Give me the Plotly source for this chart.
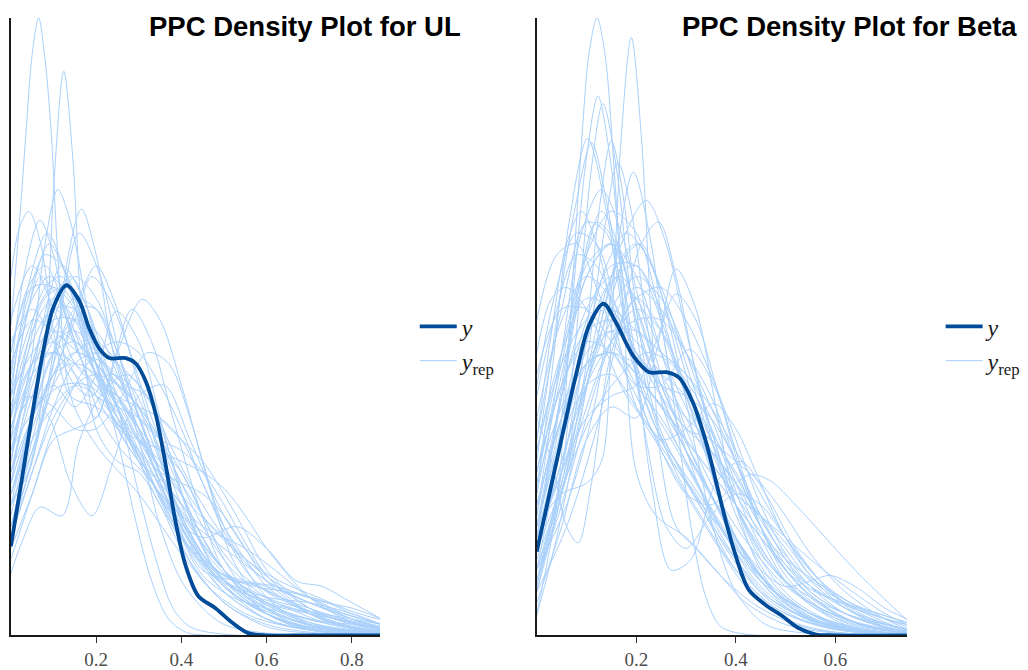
import plotly.graph_objects as go

# ---------------------------------------------------------------------------
# Observed-data density (y) and posterior predictive densities (y_rep)
# Each curve is given by knots (x, density); the line is drawn as a spline.
# ---------------------------------------------------------------------------

ul_x_max = 0.866
beta_x_max = 0.744
density_max = 5.68

ul_ticks = [0.2, 0.4, 0.6, 0.8]
beta_ticks = [0.2, 0.4, 0.6]

ul_y_x = [0, 0.025, 0.05, 0.075, 0.1, 0.13, 0.16, 0.184, 0.207, 0.231, 0.27, 0.293,
          0.317, 0.34, 0.363, 0.386, 0.41, 0.44, 0.48, 0.518, 0.557, 0.6, 0.7, 0.866]
ul_y_density = [0.82, 1.42, 2.03, 2.6, 3.02, 3.22, 3.08, 2.82, 2.64, 2.55, 2.55, 2.5,
                2.33, 2.03, 1.57, 1.05, 0.64, 0.36, 0.25, 0.12, 0.02, 0.0, 0.0, 0.0]

ul_rep_x = [
    [0, 0.02, 0.035, 0.05, 0.065, 0.08, 0.095, 0.11, 0.14, 0.2, 0.3, 0.4, 0.5, 0.6, 0.7, 0.87],
    [0, 0.05, 0.085, 0.1, 0.124, 0.145, 0.165, 0.2, 0.25, 0.3, 0.35, 0.4, 0.5, 0.6, 0.7, 0.87],
    [0, 0.05, 0.08, 0.11, 0.14, 0.18, 0.22, 0.27, 0.32, 0.38, 0.45, 0.55, 0.65, 0.75, 0.87],
    [0, 0.02, 0.042, 0.07, 0.1, 0.14, 0.2, 0.26, 0.32, 0.4, 0.5, 0.6, 0.7, 0.87],
    [0, 0.05, 0.1, 0.135, 0.165, 0.2, 0.24, 0.28, 0.33, 0.4, 0.5, 0.6, 0.7, 0.87],
    [0, 0.03, 0.068, 0.1, 0.13, 0.17, 0.22, 0.28, 0.35, 0.42, 0.5, 0.6, 0.7, 0.87],
    [0, 0.05, 0.1, 0.15, 0.2, 0.25, 0.308, 0.35, 0.4, 0.45, 0.5, 0.6, 0.7, 0.87],
    [0, 0.05, 0.1, 0.15, 0.2, 0.247, 0.3, 0.35, 0.4, 0.45, 0.5, 0.6, 0.7, 0.87],
    [0, 0.05, 0.1, 0.15, 0.2, 0.24, 0.284, 0.33, 0.38, 0.44, 0.5, 0.6, 0.7, 0.87],
    [0, 0.03, 0.068, 0.12, 0.16, 0.21, 0.27, 0.32, 0.38, 0.45, 0.52, 0.6, 0.7, 0.8, 0.87],
    [0, 0.04, 0.09, 0.14, 0.19, 0.24, 0.3, 0.36, 0.42, 0.5, 0.6, 0.7, 0.8, 0.87],
    [0, 0.05, 0.1, 0.15, 0.2, 0.26, 0.32, 0.38, 0.45, 0.53, 0.6, 0.67, 0.73, 0.8, 0.87],
    [0, 0.05, 0.1, 0.15, 0.2, 0.25, 0.3, 0.36, 0.42, 0.5, 0.6, 0.7, 0.8, 0.87],
    [0, 0.04, 0.09, 0.14, 0.19, 0.24, 0.3, 0.36, 0.42, 0.48, 0.55, 0.65, 0.75, 0.87],
    [0, 0.05, 0.12, 0.18, 0.24, 0.3, 0.36, 0.42, 0.5, 0.6, 0.7, 0.8, 0.87],
    [0, 0.04, 0.09, 0.14, 0.2, 0.26, 0.32, 0.38, 0.45, 0.55, 0.65, 0.75, 0.87],
    [0, 0.05, 0.1, 0.15, 0.2, 0.25, 0.3, 0.35, 0.4, 0.47, 0.55, 0.65, 0.75, 0.87],
    [0, 0.06, 0.12, 0.17, 0.2, 0.24, 0.3, 0.36, 0.42, 0.5, 0.6, 0.7, 0.87],
    [0, 0.05, 0.1, 0.15, 0.2, 0.25, 0.3, 0.35, 0.4, 0.45, 0.52, 0.6, 0.7, 0.8, 0.87],
    [0, 0.06, 0.12, 0.18, 0.24, 0.3, 0.36, 0.42, 0.5, 0.58, 0.66, 0.74, 0.8, 0.87],
    [0, 0.05, 0.1, 0.16, 0.22, 0.28, 0.34, 0.4, 0.46, 0.54, 0.62, 0.7, 0.8, 0.87],
    [0, 0.04, 0.08, 0.13, 0.18, 0.23, 0.28, 0.34, 0.4, 0.47, 0.55, 0.65, 0.75, 0.87],
    [0, 0.05, 0.1, 0.15, 0.2, 0.25, 0.3, 0.34, 0.38, 0.42, 0.5, 0.87],
    [0, 0.05, 0.1, 0.15, 0.2, 0.25, 0.3, 0.35, 0.4, 0.45, 0.5, 0.6, 0.87],
    [0, 0.04, 0.08, 0.12, 0.17, 0.22, 0.27, 0.32, 0.38, 0.45, 0.53, 0.6, 0.7, 0.8, 0.87],
    [0, 0.05, 0.1, 0.15, 0.2, 0.25, 0.3, 0.35, 0.4, 0.47, 0.55, 0.63, 0.72, 0.8, 0.87],
    [0, 0.03, 0.07, 0.11, 0.16, 0.21, 0.26, 0.31, 0.37, 0.43, 0.5, 0.6, 0.7, 0.87],
    [0, 0.05, 0.1, 0.15, 0.2, 0.25, 0.3, 0.35, 0.4, 0.45, 0.52, 0.6, 0.68, 0.76, 0.87],
    [0, 0.05, 0.1, 0.15, 0.19, 0.23, 0.28, 0.33, 0.38, 0.44, 0.5, 0.58, 0.66, 0.76, 0.87],
    [0, 0.05, 0.1, 0.15, 0.2, 0.25, 0.3, 0.35, 0.4, 0.45, 0.5, 0.6, 0.7, 0.8, 0.87],
    [0, 0.05, 0.1, 0.14, 0.18, 0.22, 0.27, 0.32, 0.37, 0.42, 0.48, 0.56, 0.65, 0.75, 0.87],
    [0, 0.05, 0.1, 0.15, 0.2, 0.25, 0.3, 0.36, 0.42, 0.48, 0.55, 0.62, 0.7, 0.78, 0.87],
    [0, 0.04, 0.085, 0.13, 0.18, 0.24, 0.3, 0.36, 0.43, 0.5, 0.6, 0.7, 0.87],
    [0, 0.06, 0.11, 0.16, 0.21, 0.26, 0.31, 0.37, 0.44, 0.52, 0.6, 0.7, 0.87],
    [0, 0.05, 0.1, 0.15, 0.19, 0.23, 0.28, 0.33, 0.39, 0.45, 0.52, 0.6, 0.7, 0.87],
    [0, 0.05, 0.1, 0.15, 0.2, 0.26, 0.32, 0.37, 0.42, 0.47, 0.52, 0.6, 0.7, 0.87],
    [0, 0.05, 0.1, 0.15, 0.2, 0.25, 0.29, 0.33, 0.37, 0.41, 0.46, 0.87],
    [0, 0.05, 0.1, 0.15, 0.2, 0.25, 0.3, 0.35, 0.4, 0.45, 0.5, 0.55, 0.6, 0.7, 0.8, 0.87],
    [0, 0.05, 0.1, 0.15, 0.2, 0.25, 0.3, 0.35, 0.4, 0.45, 0.5, 0.55, 0.6, 0.7, 0.8, 0.87],
    [0, 0.05, 0.1, 0.15, 0.2, 0.25, 0.3, 0.35, 0.4, 0.45, 0.5, 0.55, 0.6, 0.7, 0.8, 0.87],
    [0, 0.04, 0.08, 0.12, 0.16, 0.2, 0.25, 0.3, 0.35, 0.4, 0.45, 0.5, 0.57, 0.65, 0.75, 0.87],
    [0, 0.05, 0.1, 0.15, 0.2, 0.25, 0.3, 0.35, 0.4, 0.45, 0.5, 0.55, 0.62, 0.7, 0.8, 0.87],
    [0, 0.05, 0.1, 0.15, 0.2, 0.25, 0.3, 0.35, 0.4, 0.45, 0.5, 0.56, 0.63, 0.7, 0.78, 0.87],
    [0, 0.05, 0.1, 0.15, 0.2, 0.25, 0.3, 0.35, 0.4, 0.45, 0.5, 0.57, 0.65, 0.73, 0.8, 0.87],
    [0, 0.05, 0.1, 0.15, 0.2, 0.25, 0.3, 0.35, 0.4, 0.45, 0.5, 0.55, 0.6, 0.7, 0.87],
    [0, 0.05, 0.1, 0.15, 0.2, 0.25, 0.3, 0.35, 0.4, 0.45, 0.5, 0.55, 0.6, 0.68, 0.76, 0.87],
    [0, 0.04, 0.08, 0.12, 0.16, 0.2, 0.25, 0.3, 0.35, 0.4, 0.45, 0.5, 0.6, 0.7, 0.8, 0.87],
    [0, 0.05, 0.1, 0.15, 0.2, 0.25, 0.3, 0.35, 0.4, 0.45, 0.5, 0.55, 0.6, 0.7, 0.8, 0.87],
    [0, 0.05, 0.1, 0.15, 0.2, 0.25, 0.3, 0.35, 0.4, 0.45, 0.5, 0.6, 0.7, 0.8, 0.87],
    [0, 0.05, 0.1, 0.15, 0.2, 0.25, 0.3, 0.35, 0.4, 0.45, 0.5, 0.55, 0.6, 0.7, 0.8, 0.87],
    [0, 0.05, 0.1, 0.15, 0.2, 0.25, 0.3, 0.35, 0.4, 0.45, 0.5, 0.55, 0.6, 0.7, 0.8, 0.87],
]
ul_rep_density = [
    [2.85, 3.8, 4.6, 5.35, 5.68, 5.3, 4.6, 3.5, 2.2, 1.75, 1.3, 0.75, 0.3, 0.08, 0.02, 0.0],
    [1.2, 1.6, 2.9, 4.1, 5.19, 4.4, 3.0, 1.9, 1.6, 1.5, 1.2, 0.8, 0.3, 0.1, 0.03, 0.0],
    [1.6, 2.6, 3.6, 4.1, 3.8, 3.0, 2.4, 1.9, 1.5, 1.0, 0.5, 0.2, 0.08, 0.03, 0.01],
    [3.3, 3.75, 3.9, 3.6, 2.8, 2.2, 2.1, 1.9, 1.5, 0.9, 0.4, 0.15, 0.05, 0.01],
    [1.0, 1.6, 2.5, 3.5, 3.92, 3.5, 2.6, 2.1, 1.6, 1.0, 0.45, 0.2, 0.07, 0.01],
    [2.4, 3.3, 3.82, 3.5, 2.9, 2.5, 2.3, 2.0, 1.4, 0.8, 0.45, 0.2, 0.06, 0.01],
    [0.8, 1.3, 1.8, 1.9, 2.0, 2.6, 3.09, 2.9, 2.3, 1.6, 1.0, 0.35, 0.1, 0.01],
    [1.5, 2.0, 2.3, 2.1, 2.4, 2.98, 2.7, 2.0, 1.3, 0.8, 0.5, 0.2, 0.06, 0.01],
    [1.9, 2.5, 2.7, 2.4, 2.0, 2.5, 3.0, 2.7, 2.0, 1.2, 0.6, 0.2, 0.05, 0.0],
    [0.57, 0.9, 1.18, 1.1, 1.78, 2.2, 2.4, 2.2, 1.7, 1.2, 0.8, 0.5, 0.3, 0.15, 0.08],
    [1.6, 2.2, 2.0, 1.4, 1.1, 1.6, 2.2, 2.3, 1.8, 1.1, 0.55, 0.25, 0.12, 0.06],
    [1.3, 1.8, 2.1, 2.3, 2.2, 1.9, 1.5, 1.1, 0.9, 1.0, 0.8, 0.5, 0.45, 0.3, 0.15],
    [2.0, 2.7, 3.0, 2.8, 2.4, 2.1, 1.7, 1.2, 0.8, 0.5, 0.35, 0.3, 0.2, 0.1],
    [2.3, 3.0, 3.3, 3.1, 2.6, 2.0, 1.6, 1.4, 1.1, 0.7, 0.4, 0.2, 0.1, 0.03],
    [1.4, 2.4, 3.4, 3.0, 2.3, 1.8, 1.4, 1.0, 0.6, 0.3, 0.12, 0.05, 0.02],
    [2.0, 3.0, 3.6, 3.2, 2.5, 2.0, 1.5, 1.1, 0.7, 0.35, 0.15, 0.06, 0.02],
    [1.1, 2.0, 2.9, 3.3, 3.1, 2.6, 2.0, 1.5, 1.0, 0.6, 0.3, 0.12, 0.05, 0.01],
    [1.2, 1.8, 2.6, 3.2, 3.4, 3.1, 2.3, 1.5, 0.9, 0.45, 0.15, 0.05, 0.0],
    [2.9, 3.4, 3.0, 2.5, 2.3, 2.2, 1.9, 1.4, 0.9, 0.55, 0.35, 0.25, 0.15, 0.08, 0.04],
    [1.7, 2.1, 2.3, 2.3, 2.1, 1.8, 1.5, 1.2, 0.9, 0.6, 0.4, 0.3, 0.25, 0.15],
    [2.5, 2.9, 2.8, 2.6, 2.5, 2.2, 1.6, 1.0, 0.6, 0.4, 0.3, 0.2, 0.08, 0.03],
    [1.8, 2.6, 3.1, 3.2, 2.8, 2.4, 2.2, 1.8, 1.2, 0.7, 0.4, 0.18, 0.07, 0.02],
    [2.2, 2.9, 3.2, 3.0, 2.6, 2.1, 1.3, 0.7, 0.25, 0.08, 0.01, 0.0],
    [1.5, 2.3, 2.8, 3.1, 3.0, 2.5, 1.8, 1.0, 0.5, 0.25, 0.1, 0.02, 0.0],
    [2.6, 3.2, 3.4, 3.1, 2.6, 2.3, 2.0, 1.6, 1.1, 0.6, 0.5, 0.45, 0.3, 0.15, 0.06],
    [0.9, 1.5, 2.0, 2.3, 2.4, 2.3, 2.1, 1.8, 1.4, 1.0, 0.7, 0.5, 0.35, 0.22, 0.14],
    [2.0, 2.8, 3.3, 3.1, 2.6, 2.0, 1.7, 1.5, 1.2, 0.8, 0.4, 0.15, 0.05, 0.01],
    [1.3, 2.0, 2.6, 2.7, 2.5, 2.3, 2.1, 1.8, 1.4, 1.0, 0.6, 0.35, 0.25, 0.15, 0.05],
    [2.7, 3.0, 2.7, 2.3, 2.2, 2.4, 2.3, 1.9, 1.3, 0.8, 0.55, 0.45, 0.3, 0.12, 0.03],
    [1.9, 2.4, 2.6, 2.5, 2.3, 2.0, 1.8, 1.6, 1.3, 0.9, 0.6, 0.3, 0.2, 0.12, 0.07],
    [1.6, 2.5, 3.1, 3.3, 3.0, 2.5, 2.3, 2.2, 1.7, 1.1, 0.6, 0.3, 0.15, 0.05, 0.01],
    [1.0, 1.7, 2.3, 2.6, 2.7, 2.5, 2.0, 1.4, 0.9, 0.6, 0.5, 0.45, 0.35, 0.2, 0.1],
    [2.2, 3.2, 3.7, 3.3, 2.6, 2.0, 1.7, 1.3, 0.8, 0.45, 0.2, 0.08, 0.02],
    [0.9, 1.8, 2.8, 3.7, 3.3, 2.5, 1.9, 1.3, 0.8, 0.45, 0.25, 0.1, 0.02],
    [1.4, 2.0, 2.4, 2.9, 3.3, 3.1, 2.6, 2.0, 1.4, 0.9, 0.5, 0.25, 0.1, 0.02],
    [1.8, 2.2, 2.1, 1.9, 1.9, 2.2, 2.6, 2.5, 2.0, 1.3, 0.7, 0.25, 0.06, 0.0],
    [1.7, 2.4, 2.9, 2.9, 2.5, 1.8, 1.1, 0.5, 0.15, 0.03, 0.0, 0.0],
    [1.5, 2.2, 2.7, 2.8, 2.6, 2.3, 2.0, 1.8, 1.7, 1.5, 1.2, 0.85, 0.55, 0.2, 0.06, 0.02],
    [2.1, 2.8, 3.1, 2.9, 2.4, 2.0, 1.7, 1.5, 1.4, 1.3, 1.1, 0.8, 0.5, 0.2, 0.07, 0.02],
    [0.9, 1.5, 2.1, 2.5, 2.6, 2.5, 2.3, 2.0, 1.8, 1.6, 1.3, 0.95, 0.6, 0.25, 0.1, 0.05],
    [2.4, 3.1, 3.5, 3.4, 3.0, 2.5, 2.0, 1.6, 1.2, 0.9, 0.7, 0.55, 0.4, 0.25, 0.1, 0.03],
    [1.2, 2.0, 2.6, 2.9, 2.8, 2.4, 1.9, 1.5, 1.2, 1.0, 0.9, 0.8, 0.6, 0.35, 0.15, 0.06],
    [2.0, 2.5, 2.6, 2.4, 2.2, 2.1, 2.0, 1.8, 1.5, 1.1, 0.75, 0.5, 0.35, 0.25, 0.15, 0.08],
    [1.0, 1.8, 2.5, 3.0, 3.0, 2.6, 2.1, 1.6, 1.1, 0.75, 0.55, 0.45, 0.4, 0.32, 0.2, 0.1],
    [2.6, 3.2, 3.2, 2.7, 2.2, 1.9, 1.8, 1.7, 1.5, 1.1, 0.7, 0.4, 0.2, 0.05, 0.0],
    [1.4, 2.0, 2.4, 2.5, 2.4, 2.2, 2.1, 2.0, 1.8, 1.4, 0.95, 0.6, 0.4, 0.25, 0.15, 0.06],
    [1.8, 2.7, 3.2, 3.3, 2.9, 2.4, 1.9, 1.6, 1.4, 1.15, 0.85, 0.6, 0.3, 0.15, 0.1, 0.06],
    [0.7, 1.3, 1.9, 2.3, 2.6, 2.7, 2.6, 2.3, 1.9, 1.4, 1.0, 0.7, 0.45, 0.2, 0.08, 0.03],
    [2.2, 2.6, 2.8, 2.7, 2.5, 2.2, 1.9, 1.5, 1.1, 0.75, 0.5, 0.3, 0.22, 0.15, 0.1],
    [1.3, 1.9, 2.4, 2.6, 2.5, 2.2, 1.9, 1.7, 1.6, 1.5, 1.35, 1.1, 0.8, 0.35, 0.12, 0.04],
    [1.7, 2.5, 3.0, 3.0, 2.6, 2.1, 1.6, 1.3, 1.1, 0.95, 0.8, 0.65, 0.5, 0.3, 0.18, 0.1],
]

beta_y_x = [0, 0.046, 0.08, 0.105, 0.134, 0.16, 0.194, 0.226, 0.26, 0.286, 0.313, 0.34,
            0.36, 0.38, 0.4, 0.426, 0.46, 0.493, 0.525, 0.56, 0.6, 0.744]
beta_y_density = [0.77, 1.73, 2.42, 2.85, 3.05, 2.87, 2.57, 2.42, 2.42, 2.37, 2.15, 1.78,
                  1.42, 1.05, 0.73, 0.42, 0.28, 0.18, 0.07, 0.01, 0.0, 0.0]

beta_rep_x = [
    [0, 0.04, 0.07, 0.088, 0.105, 0.121, 0.137, 0.154, 0.175, 0.2, 0.24, 0.3, 0.36, 0.42, 0.5, 0.6, 0.744],
    [0, 0.05, 0.1, 0.13, 0.15, 0.17, 0.19, 0.21, 0.23, 0.25, 0.28, 0.32, 0.38, 0.45, 0.55, 0.744],
    [0, 0.04, 0.07, 0.1, 0.123, 0.15, 0.18, 0.22, 0.27, 0.32, 0.38, 0.45, 0.55, 0.65, 0.744],
    [0, 0.05, 0.08, 0.11, 0.133, 0.16, 0.19, 0.23, 0.28, 0.33, 0.4, 0.48, 0.58, 0.744],
    [0, 0.03, 0.065, 0.102, 0.14, 0.18, 0.23, 0.28, 0.34, 0.4, 0.48, 0.58, 0.744],
    [0, 0.05, 0.1, 0.125, 0.15, 0.175, 0.2, 0.24, 0.29, 0.34, 0.4, 0.48, 0.58, 0.744],
    [0, 0.05, 0.1, 0.135, 0.163, 0.19, 0.22, 0.26, 0.31, 0.37, 0.44, 0.52, 0.62, 0.744],
    [0, 0.06, 0.12, 0.16, 0.194, 0.23, 0.26, 0.3, 0.35, 0.41, 0.48, 0.56, 0.65, 0.744],
    [0, 0.04, 0.08, 0.11, 0.14, 0.18, 0.22, 0.27, 0.32, 0.38, 0.45, 0.55, 0.65, 0.744],
    [0, 0.05, 0.1, 0.15, 0.2, 0.24, 0.28, 0.32, 0.36, 0.4, 0.45, 0.5, 0.58, 0.66, 0.744],
    [0, 0.05, 0.1, 0.15, 0.2, 0.24, 0.28, 0.32, 0.36, 0.41, 0.46, 0.52, 0.6, 0.68, 0.744],
    [0, 0.05, 0.1, 0.15, 0.2, 0.25, 0.306, 0.356, 0.4, 0.45, 0.5, 0.57, 0.65, 0.744],
    [0, 0.05, 0.1, 0.15, 0.2, 0.25, 0.3, 0.356, 0.4, 0.45, 0.5, 0.57, 0.65, 0.744],
    [0, 0.05, 0.1, 0.15, 0.2, 0.25, 0.3, 0.35, 0.4, 0.43, 0.47, 0.52, 0.58, 0.64, 0.7, 0.744],
    [0, 0.05, 0.1, 0.15, 0.2, 0.25, 0.3, 0.35, 0.4, 0.45, 0.5, 0.55, 0.59, 0.64, 0.7, 0.744],
    [0, 0.04, 0.08, 0.12, 0.16, 0.2, 0.24, 0.28, 0.33, 0.38, 0.44, 0.5, 0.58, 0.66, 0.744],
    [0, 0.03, 0.06, 0.083, 0.11, 0.15, 0.2, 0.25, 0.3, 0.35, 0.4, 0.46, 0.53, 0.62, 0.744],
    [0, 0.04, 0.08, 0.12, 0.17, 0.22, 0.27, 0.32, 0.37, 0.42, 0.48, 0.55, 0.63, 0.744],
    [0, 0.05, 0.1, 0.15, 0.2, 0.24, 0.28, 0.31, 0.34, 0.37, 0.42, 0.5, 0.744],
    [0, 0.05, 0.1, 0.15, 0.19, 0.23, 0.27, 0.31, 0.36, 0.41, 0.46, 0.52, 0.6, 0.68, 0.744],
    [0, 0.05, 0.1, 0.14, 0.18, 0.22, 0.26, 0.3, 0.35, 0.4, 0.45, 0.5, 0.57, 0.65, 0.744],
    [0, 0.04, 0.08, 0.12, 0.16, 0.2, 0.25, 0.3, 0.35, 0.4, 0.46, 0.53, 0.62, 0.744],
    [0, 0.05, 0.1, 0.15, 0.2, 0.25, 0.3, 0.35, 0.4, 0.45, 0.5, 0.57, 0.65, 0.744],
    [0, 0.04, 0.08, 0.12, 0.17, 0.22, 0.27, 0.32, 0.37, 0.42, 0.48, 0.55, 0.65, 0.744],
    [0, 0.06, 0.12, 0.17, 0.22, 0.26, 0.3, 0.35, 0.4, 0.45, 0.51, 0.58, 0.66, 0.744],
    [0, 0.05, 0.1, 0.15, 0.2, 0.25, 0.3, 0.35, 0.4, 0.45, 0.5, 0.56, 0.64, 0.744],
    [0, 0.05, 0.09, 0.13, 0.17, 0.21, 0.25, 0.3, 0.35, 0.4, 0.46, 0.53, 0.62, 0.744],
    [0, 0.05, 0.1, 0.15, 0.2, 0.25, 0.3, 0.35, 0.4, 0.45, 0.5, 0.56, 0.63, 0.7, 0.744],
    [0, 0.05, 0.1, 0.14, 0.18, 0.22, 0.26, 0.3, 0.34, 0.39, 0.45, 0.52, 0.6, 0.744],
    [0, 0.05, 0.1, 0.15, 0.2, 0.25, 0.3, 0.36, 0.42, 0.48, 0.54, 0.6, 0.67, 0.744],
    [0, 0.06, 0.12, 0.17, 0.21, 0.245, 0.28, 0.32, 0.37, 0.42, 0.48, 0.55, 0.63, 0.744],
    [0, 0.03, 0.06, 0.1, 0.14, 0.18, 0.23, 0.28, 0.34, 0.4, 0.47, 0.55, 0.65, 0.744],
    [0, 0.04, 0.08, 0.12, 0.16, 0.2, 0.25, 0.3, 0.36, 0.42, 0.48, 0.55, 0.63, 0.744],
    [0, 0.05, 0.1, 0.15, 0.2, 0.25, 0.3, 0.35, 0.4, 0.45, 0.5, 0.56, 0.63, 0.7, 0.744],
    [0, 0.05, 0.09, 0.13, 0.17, 0.21, 0.26, 0.31, 0.36, 0.42, 0.48, 0.56, 0.65, 0.744],
    [0, 0.05, 0.1, 0.14, 0.17, 0.21, 0.25, 0.3, 0.35, 0.4, 0.45, 0.5, 0.57, 0.65, 0.744],
    [0, 0.03, 0.06, 0.09, 0.12, 0.16, 0.2, 0.25, 0.3, 0.36, 0.42, 0.5, 0.6, 0.744],
    [0, 0.05, 0.1, 0.15, 0.18, 0.21, 0.24, 0.28, 0.32, 0.36, 0.4, 0.46, 0.54, 0.744],
    [0, 0.05, 0.1, 0.15, 0.2, 0.25, 0.3, 0.35, 0.4, 0.45, 0.5, 0.55, 0.62, 0.7, 0.744],
    [0, 0.05, 0.1, 0.15, 0.2, 0.25, 0.3, 0.35, 0.4, 0.45, 0.5, 0.55, 0.62, 0.7, 0.744],
    [0, 0.05, 0.1, 0.15, 0.2, 0.25, 0.3, 0.35, 0.4, 0.45, 0.5, 0.55, 0.62, 0.7, 0.744],
    [0, 0.05, 0.1, 0.15, 0.2, 0.25, 0.3, 0.35, 0.4, 0.45, 0.5, 0.55, 0.62, 0.7, 0.744],
    [0, 0.05, 0.1, 0.15, 0.2, 0.25, 0.3, 0.35, 0.4, 0.45, 0.5, 0.55, 0.62, 0.7, 0.744],
    [0, 0.05, 0.1, 0.15, 0.2, 0.25, 0.3, 0.35, 0.4, 0.45, 0.5, 0.55, 0.62, 0.7, 0.744],
    [0, 0.05, 0.1, 0.15, 0.2, 0.25, 0.3, 0.35, 0.4, 0.45, 0.5, 0.55, 0.62, 0.7, 0.744],
    [0, 0.05, 0.1, 0.15, 0.2, 0.25, 0.3, 0.35, 0.4, 0.45, 0.5, 0.55, 0.62, 0.7, 0.744],
    [0, 0.04, 0.08, 0.12, 0.16, 0.2, 0.25, 0.3, 0.35, 0.4, 0.45, 0.5, 0.57, 0.65, 0.744],
    [0, 0.05, 0.1, 0.15, 0.2, 0.25, 0.3, 0.35, 0.4, 0.45, 0.5, 0.55, 0.62, 0.7, 0.744],
    [0, 0.05, 0.1, 0.15, 0.2, 0.25, 0.3, 0.35, 0.4, 0.45, 0.5, 0.55, 0.62, 0.7, 0.744],
    [0, 0.05, 0.1, 0.15, 0.2, 0.25, 0.3, 0.35, 0.4, 0.45, 0.5, 0.55, 0.62, 0.7, 0.744],
    [0, 0.05, 0.1, 0.15, 0.2, 0.25, 0.3, 0.35, 0.4, 0.45, 0.5, 0.55, 0.62, 0.7, 0.744],
    [0, 0.05, 0.1, 0.15, 0.2, 0.25, 0.3, 0.35, 0.4, 0.45, 0.5, 0.55, 0.62, 0.7, 0.744],
]
beta_rep_density = [
    [0.2, 1.2, 3.1, 4.39, 5.35, 5.68, 5.35, 4.39, 2.9, 1.5, 1.1, 0.9, 0.6, 0.3, 0.1, 0.02, 0.0],
    [1.0, 1.3, 1.4, 1.6, 2.8, 4.6, 5.5, 4.6, 2.9, 1.6, 1.0, 0.8, 0.5, 0.25, 0.06, 0.0],
    [0.6, 1.6, 3.0, 4.4, 4.96, 4.3, 3.0, 2.0, 1.6, 1.3, 0.8, 0.4, 0.15, 0.04, 0.01],
    [0.4, 1.5, 2.8, 4.3, 4.89, 4.3, 3.1, 2.1, 1.5, 1.1, 0.6, 0.25, 0.07, 0.0],
    [1.3, 2.4, 3.8, 4.57, 3.9, 2.8, 2.0, 1.6, 1.1, 0.6, 0.25, 0.08, 0.0],
    [0.8, 1.4, 2.8, 3.9, 4.55, 4.0, 3.0, 2.0, 1.5, 1.1, 0.7, 0.3, 0.1, 0.0],
    [0.5, 1.3, 2.5, 3.7, 4.35, 3.9, 2.9, 2.0, 1.5, 1.0, 0.5, 0.2, 0.05, 0.0],
    [0.6, 1.2, 2.2, 3.5, 4.26, 3.6, 2.6, 1.8, 1.3, 0.8, 0.4, 0.15, 0.04, 0.0],
    [1.6, 2.9, 4.0, 4.53, 4.0, 2.9, 2.2, 1.8, 1.4, 0.9, 0.5, 0.2, 0.06, 0.01],
    [0.3, 1.0, 1.8, 2.1, 2.0, 2.6, 3.37, 3.0, 2.1, 1.2, 0.6, 0.3, 0.1, 0.03, 0.0],
    [0.9, 1.5, 2.0, 2.2, 2.3, 2.7, 3.14, 2.9, 2.3, 1.5, 0.9, 0.5, 0.2, 0.07, 0.02],
    [1.2, 2.0, 2.5, 2.6, 2.3, 2.3, 2.63, 2.3, 1.7, 1.0, 0.55, 0.25, 0.1, 0.02],
    [1.0, 1.8, 2.3, 2.4, 2.1, 1.8, 1.9, 2.13, 1.9, 1.4, 0.9, 0.5, 0.25, 0.08],
    [1.5, 2.3, 2.7, 2.6, 2.2, 1.7, 1.3, 1.2, 1.4, 1.48, 1.42, 1.2, 0.9, 0.6, 0.33, 0.14],
    [1.2, 2.0, 2.5, 2.6, 2.4, 2.1, 1.7, 1.3, 0.9, 0.6, 0.45, 0.5, 0.55, 0.45, 0.25, 0.15],
    [0.18, 0.9, 1.8, 2.7, 3.3, 3.4, 3.1, 2.5, 1.8, 1.1, 0.6, 0.3, 0.1, 0.03, 0.0],
    [2.0, 1.6, 1.0, 0.85, 1.4, 2.6, 3.1, 2.8, 2.2, 1.7, 1.2, 0.7, 0.35, 0.1, 0.01],
    [0.45, 1.2, 1.7, 2.1, 2.4, 2.6, 2.5, 2.2, 1.7, 1.1, 0.6, 0.3, 0.1, 0.02],
    [1.5, 2.6, 3.5, 3.9, 3.7, 3.1, 2.0, 1.0, 0.35, 0.08, 0.01, 0.0, 0.0],
    [1.0, 2.2, 3.3, 3.6, 2.8, 1.4, 0.6, 0.7, 1.4, 1.6, 1.3, 0.8, 0.35, 0.1, 0.03],
    [1.8, 3.0, 3.8, 3.7, 2.9, 1.8, 1.0, 0.8, 1.1, 1.3, 1.2, 0.9, 0.5, 0.2, 0.05],
    [0.9, 2.0, 3.1, 3.8, 3.6, 2.9, 2.2, 1.7, 1.3, 0.9, 0.5, 0.2, 0.05, 0.0],
    [1.3, 2.4, 3.3, 3.6, 3.3, 2.6, 1.9, 1.4, 1.0, 0.7, 0.45, 0.25, 0.1, 0.02],
    [2.2, 3.0, 3.5, 3.4, 2.8, 2.3, 2.0, 1.6, 1.1, 0.7, 0.4, 0.2, 0.06, 0.01],
    [0.7, 1.5, 2.7, 3.6, 4.0, 3.6, 2.8, 1.9, 1.2, 0.7, 0.35, 0.15, 0.04, 0.0],
    [1.7, 2.5, 2.9, 3.0, 2.8, 2.6, 2.4, 2.0, 1.4, 0.9, 0.5, 0.25, 0.1, 0.02],
    [1.1, 2.6, 3.7, 4.1, 3.7, 3.0, 2.4, 1.7, 1.1, 0.7, 0.35, 0.15, 0.04, 0.0],
    [0.8, 1.6, 2.3, 2.7, 2.9, 2.9, 2.6, 2.2, 1.6, 1.0, 0.6, 0.4, 0.28, 0.18, 0.12],
    [0.5, 1.5, 2.7, 3.4, 3.7, 3.5, 3.0, 2.4, 1.7, 1.0, 0.5, 0.2, 0.06, 0.0],
    [1.4, 2.1, 2.5, 2.6, 2.5, 2.4, 2.2, 1.8, 1.3, 0.85, 0.55, 0.35, 0.2, 0.1],
    [0.4, 1.0, 1.9, 2.9, 3.6, 3.8, 3.3, 2.4, 1.5, 0.9, 0.45, 0.2, 0.05, 0.0],
    [2.6, 3.1, 3.2, 3.0, 2.6, 2.2, 1.9, 1.6, 1.2, 0.8, 0.4, 0.15, 0.04, 0.0],
    [2.9, 3.5, 3.6, 3.2, 2.7, 2.3, 2.0, 1.6, 1.1, 0.7, 0.4, 0.2, 0.06, 0.01],
    [0.6, 1.3, 2.1, 2.7, 3.0, 2.8, 2.3, 1.8, 1.3, 0.95, 0.7, 0.5, 0.3, 0.18, 0.12],
    [0.9, 2.2, 3.3, 3.9, 3.5, 2.7, 2.1, 1.6, 1.2, 0.75, 0.4, 0.15, 0.04, 0.0],
    [1.0, 1.9, 2.7, 3.2, 3.3, 2.9, 2.3, 1.9, 1.8, 1.5, 1.0, 0.6, 0.3, 0.1, 0.02],
    [1.8, 2.8, 3.6, 3.9, 3.6, 2.8, 2.1, 1.7, 1.3, 0.85, 0.45, 0.15, 0.03, 0.0],
    [0.9, 1.5, 2.3, 3.1, 3.5, 3.6, 3.3, 2.6, 1.7, 0.9, 0.4, 0.1, 0.02, 0.0],
    [1.1, 2.2, 3.0, 3.3, 3.1, 2.6, 2.1, 1.7, 1.4, 1.1, 0.8, 0.5, 0.25, 0.1, 0.05],
    [0.6, 1.4, 2.3, 2.9, 3.2, 3.0, 2.6, 2.1, 1.6, 1.1, 0.7, 0.45, 0.25, 0.1, 0.05],
    [2.0, 2.9, 3.3, 3.1, 2.6, 2.2, 1.9, 1.7, 1.4, 1.0, 0.65, 0.4, 0.2, 0.08, 0.04],
    [1.4, 2.5, 3.4, 3.6, 3.0, 2.3, 1.8, 1.5, 1.2, 0.9, 0.6, 0.35, 0.15, 0.05, 0.02],
    [0.9, 1.8, 2.5, 2.8, 2.8, 2.6, 2.4, 2.1, 1.7, 1.3, 0.9, 0.55, 0.25, 0.08, 0.03],
    [1.7, 2.6, 3.1, 3.0, 2.6, 2.3, 2.2, 2.0, 1.6, 1.1, 0.7, 0.4, 0.2, 0.08, 0.03],
    [0.4, 1.3, 2.4, 3.3, 3.6, 3.2, 2.5, 1.8, 1.2, 0.8, 0.5, 0.3, 0.15, 0.06, 0.02],
    [1.2, 2.0, 2.6, 2.8, 2.6, 2.3, 2.0, 1.8, 1.6, 1.4, 1.1, 0.75, 0.4, 0.15, 0.06],
    [2.3, 3.2, 3.7, 3.6, 3.0, 2.4, 1.8, 1.4, 1.1, 0.8, 0.55, 0.35, 0.15, 0.05, 0.01],
    [0.8, 1.6, 2.4, 3.0, 3.3, 3.1, 2.6, 1.9, 1.2, 0.75, 0.5, 0.35, 0.2, 0.1, 0.06],
    [1.5, 2.3, 2.8, 2.9, 2.7, 2.4, 2.0, 1.6, 1.3, 1.1, 0.9, 0.7, 0.45, 0.2, 0.1],
    [0.5, 1.2, 2.0, 2.7, 3.1, 3.2, 2.9, 2.4, 1.8, 1.2, 0.75, 0.45, 0.2, 0.07, 0.03],
    [2.4, 3.0, 3.0, 2.7, 2.4, 2.1, 1.8, 1.5, 1.2, 0.9, 0.65, 0.45, 0.28, 0.15, 0.1],
    [1.0, 2.0, 2.9, 3.4, 3.4, 2.9, 2.2, 1.6, 1.3, 1.1, 0.85, 0.55, 0.3, 0.12, 0.05],
]

# ---------------------------------------------------------------------------
# Styling
# ---------------------------------------------------------------------------
W, H = 1028, 670
REP_COLOR = "#a9d0fb"
Y_COLOR = "#004c99"
AXIS_COLOR = "#1a1a1a"
TICK_FONT = dict(family="Liberation Serif, Times New Roman, serif", size=19, color="#4d4d4d")
LEGEND_FONT = dict(family="Liberation Serif, Times New Roman, serif", size=24, color="#1a1a1a")
TITLE_FONT = dict(family="Liberation Sans, Arial, sans-serif", size=27.5, color="#000000")

# pixel geometry of the two panels
left_px = (11, 383)
right_px = (541, 914)
top_px, bottom_px = 18, 643


def px_x(p):
    return p / W


def px_y(p):
    return 1 - p / H


fig = go.Figure()

panels = [
    ("x", "y", "legend", ul_rep_x, ul_rep_density, ul_y_x, ul_y_density),
    ("x2", "y2", "legend2", beta_rep_x, beta_rep_density, beta_y_x, beta_y_density),
]

for xa, ya, leg, rep_x, rep_d, obs_x, obs_d in panels:
    for i, (xs, ds) in enumerate(zip(rep_x, rep_d)):
        assert len(xs) == len(ds)
        fig.add_trace(go.Scatter(
            x=xs, y=ds, mode="lines", xaxis=xa, yaxis=ya,
            line=dict(color=REP_COLOR, width=1, shape="spline", smoothing=0.9),
            name="<i>y</i><sub>rep</sub>", legend=leg, legendgroup="rep" + xa,
            legendrank=2, showlegend=(i == 0), hoverinfo="skip",
        ))
    assert len(obs_x) == len(obs_d)
    fig.add_trace(go.Scatter(
        x=obs_x, y=obs_d, mode="lines", xaxis=xa, yaxis=ya,
        line=dict(color=Y_COLOR, width=3.8, shape="spline", smoothing=0.9),
        name="<i>y</i>", legend=leg, legendgroup="obs" + xa, legendrank=1,
        hoverinfo="skip",
    ))

axis_common = dict(
    showgrid=False, zeroline=False, showline=True, linecolor=AXIS_COLOR, linewidth=1.5,
)

fig.update_layout(
    width=W, height=H,
    margin=dict(l=0, r=0, t=0, b=0),
    paper_bgcolor="white", plot_bgcolor="white",
    xaxis=dict(domain=[px_x(left_px[0]), px_x(left_px[1])], range=[0, ul_x_max],
               anchor="y", tickvals=ul_ticks, ticktext=[f"{v:.1f}" for v in ul_ticks],
               ticks="outside", ticklen=6, tickcolor="#333333", tickwidth=1,
               tickfont=TICK_FONT, **axis_common),
    yaxis=dict(domain=[px_y(bottom_px), px_y(top_px)], range=[0, density_max],
               anchor="x", showticklabels=False, ticks="", **axis_common),
    xaxis2=dict(domain=[px_x(right_px[0]), px_x(right_px[1])], range=[0, beta_x_max],
                anchor="y2", tickvals=beta_ticks, ticktext=[f"{v:.1f}" for v in beta_ticks],
                ticks="outside", ticklen=6, tickcolor="#333333", tickwidth=1,
                tickfont=TICK_FONT, **axis_common),
    yaxis2=dict(domain=[px_y(bottom_px), px_y(top_px)], range=[0, density_max],
                anchor="x2", showticklabels=False, ticks="", **axis_common),
    legend=dict(x=px_x(418), xanchor="left", y=px_y(308), yanchor="top",
                font=LEGEND_FONT, itemwidth=37, tracegroupgap=0,
                bgcolor="rgba(0,0,0,0)", traceorder="grouped"),
    legend2=dict(x=px_x(948), xanchor="left", y=px_y(308), yanchor="top",
                 font=LEGEND_FONT, itemwidth=37, tracegroupgap=0,
                 bgcolor="rgba(0,0,0,0)", traceorder="grouped"),
    annotations=[
        dict(text="<b>PPC Density Plot for UL</b>", x=px_x(467), y=px_y(27),
             xref="paper", yref="paper", xanchor="right", yanchor="middle",
             showarrow=False, font=TITLE_FONT),
        dict(text="<b>PPC Density Plot for Beta</b>", x=px_x(1027), y=px_y(27),
             xref="paper", yref="paper", xanchor="right", yanchor="middle",
             showarrow=False, font=TITLE_FONT),
    ],
    showlegend=True,
)

fig.write_html("out.html")
